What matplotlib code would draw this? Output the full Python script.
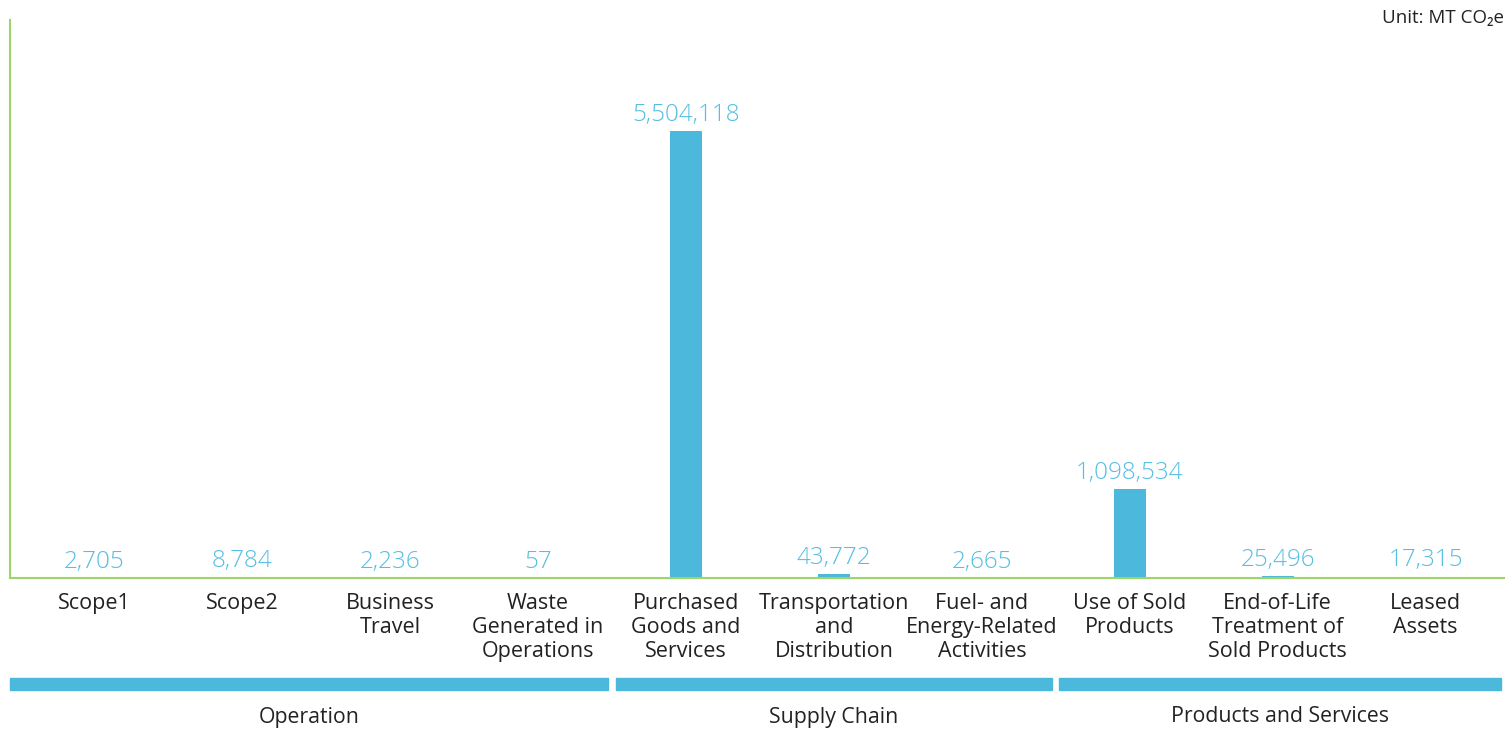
import matplotlib.pyplot as plt
import matplotlib.transforms as mtransforms

# emissions by category (MT CO2e)
categories = ['Scope1', 'Scope2', 'Business\nTravel', 'Waste\nGenerated in\nOperations',
              'Purchased\nGoods and\nServices', 'Transportation\nand\nDistribution',
              'Fuel- and\nEnergy-Related\nActivities', 'Use of Sold\nProducts',
              'End-of-Life\nTreatment of\nSold Products', 'Leased\nAssets']
emissions = [2705, 8784, 2236, 57, 5504118, 43772, 2665, 1098534, 25496, 17315]

# category groups: name, first index, last index
group_names = ['Operation', 'Supply Chain', 'Products and Services']
group_first = [0, 4, 7]
group_last = [3, 6, 9]

blue = '#4bb8dc'
label_blue = '#55bfe2'
green = '#9cd56a'
dark = '#222222'

plt.rcParams['font.family'] = ['Open Sans', 'DejaVu Sans']

fig = plt.figure(figsize=(15.06, 7.29), dpi=100)
ax = fig.add_axes([10/1506, 1 - 578/729, 1494/1506, 558/729])

x = range(len(categories))
ax.bar(x, emissions, width=0.215, color=blue, zorder=2)
for xi, v in zip(x, emissions):
    ax.annotate('{:,}'.format(v), (xi, v), xytext=(0, 3), textcoords='offset points',
                ha='center', va='bottom', fontsize=17.5, color=label_blue,
                fontweight='light')

ax.set_xlim(-0.57, 9.53)
ax.set_ylim(0, 6870000)

for s in ['top', 'right']:
    ax.spines[s].set_visible(False)
for s in ['left', 'bottom']:
    ax.spines[s].set_color(green)
    ax.spines[s].set_linewidth(1.5)
ax.set_yticks([])
ax.set_xticks(list(x))
ax.set_xticklabels(categories, fontsize=15.5, color=dark, linespacing=1.17)
ax.tick_params(axis='x', length=0, pad=11)

# group bands under the category labels
trans = mtransforms.blended_transform_factory(ax.transData, fig.transFigure)
gap = 0.025
for name, a, b in zip(group_names, group_first, group_last):
    left = a - 0.5 + gap if a > 0 else -0.57
    right = b + 0.5 - gap if b < len(categories) - 1 else 9.51
    ax.add_patch(plt.Rectangle((left, 1 - 690/729), right - left, 12/729,
                               transform=trans, color=blue, clip_on=False))
    ax.text((left + right) / 2, 1 - 717/729, name, transform=trans,
            ha='center', va='center', fontsize=15.3, color=dark)

fig.text(1504/1506, 1 - 18/729, 'Unit: MT CO\u2082e', ha='right', va='center',
         fontsize=13.5, color=dark)

fig.savefig('out.png', dpi=100)
plt.close()
